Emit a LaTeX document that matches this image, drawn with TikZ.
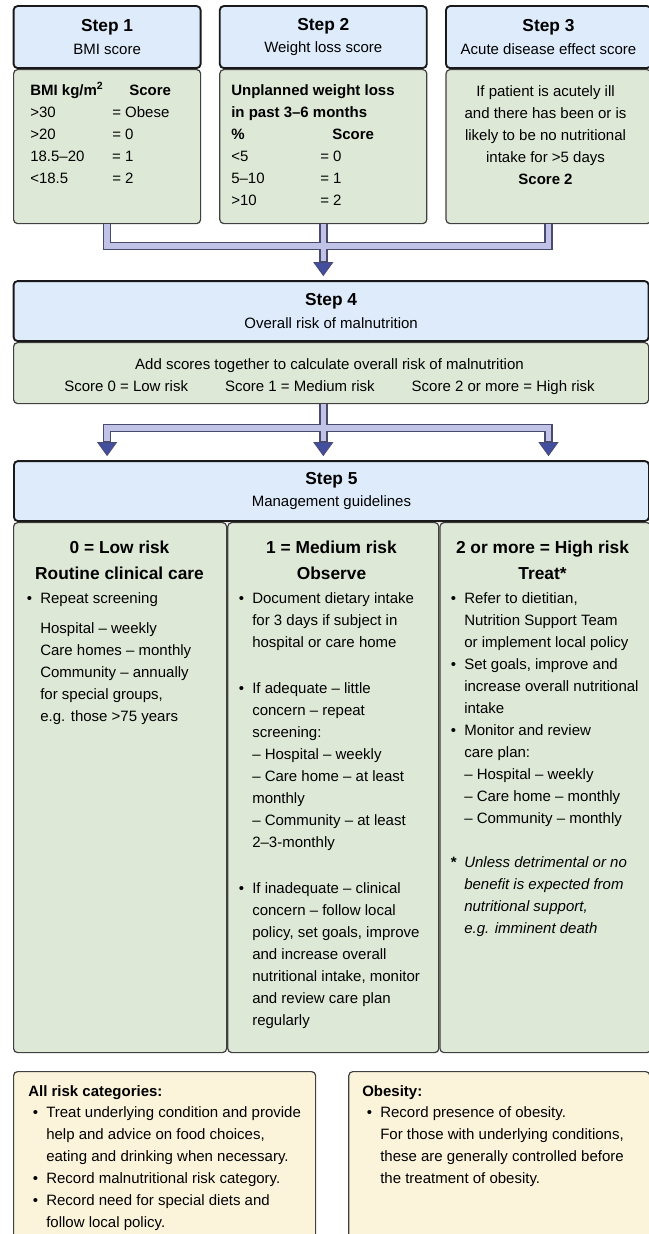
\documentclass[tikz,border=0pt]{standalone}
\usepackage{fontspec}
\setmainfont{Liberation Sans}
\usepackage{xcolor}
\usepackage{tikz}
\usetikzlibrary{arrows.meta, positioning}

\definecolor{headblue}{RGB}{221,235,251}
\definecolor{bodygreen}{RGB}{222,232,215}
\definecolor{noteyellow}{RGB}{251,243,218}
\definecolor{boxline}{RGB}{64,64,64}
\definecolor{pipeedge}{RGB}{72,74,112}
\definecolor{pipefill}{RGB}{192,195,229}
\definecolor{tipfill}{RGB}{68,78,158}

\newcommand{\stepfont}{\fontsize{13}{17}\selectfont\bfseries}
\newcommand{\itm}{\makebox[10pt][l]{\textbullet}}
\newcommand{\ind}{\hspace*{10pt}}

\begin{document}
\begin{tikzpicture}[x=0.75pt, y=-0.75pt,
  stephead/.style={draw=black!90, line width=1.4pt, rounded corners=3pt, fill=headblue,
                   minimum height=46.5pt, inner sep=0pt, align=center,
                   font=\fontsize{11.25}{17}\selectfont},
  stepbody/.style={draw=boxline, line width=0.9pt, rounded corners=3pt, fill=bodygreen,
                   inner sep=0pt},
  notebox/.style={draw=boxline, line width=0.9pt, rounded corners=3pt, fill=noteyellow,
                  inner sep=0pt, anchor=north west, minimum height=150pt},
  txt/.style={anchor=north west, inner sep=0pt, align=left,
              font=\fontsize{11.25}{16.5}\selectfont, execute at begin node=\strut},
  ctxt/.style={txt, anchor=north, align=center},
  coltitle/.style={anchor=north, inner sep=0pt, align=center,
                   font=\fontsize{13}{20}\selectfont\bfseries, execute at begin node=\strut},
  pipeout/.style={draw=pipeedge, line width=6.3pt},
  pipein/.style={draw=pipefill, line width=4.2pt},
  headtip/.style={-{Triangle[width=15pt, length=10.5pt, line width=0.6pt, fill=tipfill]},
                  shorten >=3pt},
  headgap/.style={shorten >=14pt},
]
  \useasboundingbox (0,0) rectangle (649,1234);
  \clip (0,0) rectangle (649,1234);
  \fill[white] (0,0) rectangle (649,1234);

  % steps 1 to 3
  \node[stepbody, anchor=north west, minimum width=140.25pt, minimum height=115.5pt] (body1) at (13,69) {};
  \node[stepbody, right=13.5pt of body1, minimum width=155.25pt, minimum height=115.5pt] (body2) {};
  \node[stepbody, right=13.5pt of body2, minimum width=153.75pt, minimum height=115.5pt] (body3) {};
  \node[stephead, above=0pt of body1, minimum width=140.25pt] (head1) {{\stepfont Step 1}\\BMI score};
  \node[stephead, above=0pt of body2, minimum width=155.25pt] (head2) {{\stepfont Step 2}\\Weight loss score};
  \node[stephead, above=0pt of body3, minimum width=153.75pt] (head3) {{\stepfont Step 3}\\Acute disease effect score};

  \node[txt] (bmi) at (30,79.6) {\begin{tabular}[t]{@{}p{61.5pt}@{}l@{}}
      \textbf{BMI kg/m\textsuperscript{2}} & \hspace*{12.75pt}\textbf{Score}\\
      >30 & = Obese\\
      >20 & = 0\\
      18.5–20 & = 1\\
      <18.5 & = 2
    \end{tabular}};
  \node[txt] (loss) at (231,79.6) {\begin{tabular}[t]{@{}p{66.75pt}@{}l@{}}
      \multicolumn{2}{@{}l@{}}{\textbf{Unplanned weight loss}}\\
      \multicolumn{2}{@{}l@{}}{\textbf{in past 3–6 months}}\\
      \textbf{\%} & \hspace*{9pt}\textbf{Score}\\
      <5 & = 0\\
      5–10 & = 1\\
      >10 & = 2
    \end{tabular}};
  \node[ctxt] (acute) at (545.5,85) {If patient is acutely ill\\and there has been or is\\
    likely to be no nutritional\\intake for >5 days\\\textbf{Score 2}};

  % step 4
  \node[stepbody, anchor=north west, minimum width=476.25pt, minimum height=45.75pt] (body4) at (13,342) {};
  \node[stephead, above=0pt of body4, minimum width=476.25pt, minimum height=45pt] (head4) {{\stepfont Step 4}\\Overall risk of malnutrition};
  \node[ctxt] (risk) at (329.5,358.6) {Add scores together to calculate overall risk of malnutrition\\
    Score 0 = Low risk\hspace{27.75pt}Score 1 = Medium risk\hspace{27.75pt}Score 2 or more = High risk};

  % step 5
  \node[stepbody, anchor=north west, minimum width=159.75pt, minimum height=397.5pt] (col1) at (13,522) {};
  \node[stepbody, right=0pt of col1, minimum width=158.25pt, minimum height=397.5pt] (col2) {};
  \node[stepbody, right=0pt of col2, minimum width=158.25pt, minimum height=397.5pt] (col3) {};
  \node[stephead, anchor=south west, minimum width=476.25pt, minimum height=45pt] (head5) at (col1.north west) {{\stepfont Step 5}\\Management guidelines};

  \node[coltitle] (low) at (119.5,540.5) {0 = Low risk\\Routine clinical care};
  \node[coltitle] (medium) at (331.5,540.5) {1 = Medium risk\\Observe};
  \node[coltitle] (high) at (542.5,540.5) {2 or more = High risk\\Treat*};

  \node[txt] (lowtext) at (26.7,592.6) {\itm Repeat screening\\[6pt]
    \ind Hospital – weekly\\\ind Care homes – monthly\\\ind Community – annually\\
    \ind for special groups,\\\ind e.g. those >75 years};
  \node[txt] (mediumtext) at (238.7,592.6) {\itm Document dietary intake\\\ind for 3 days if subject in\\
    \ind hospital or care home\\[18pt]
    \itm If adequate – little\\\ind concern – repeat\\\ind screening:\\\ind – Hospital – weekly\\
    \ind – Care home – at least\\\ind monthly\\\ind – Community – at least\\\ind 2–3-monthly\\[17.5pt]
    \itm If inadequate – clinical\\\ind concern – follow local\\\ind policy, set goals, improve\\
    \ind and increase overall\\\ind nutritional intake, monitor\\\ind and review care plan\\\ind regularly};
  \node[txt] (hightext) at (450.7,592.6) {\itm Refer to dietitian,\\\ind Nutrition Support Team\\
    \ind or implement local policy\\\itm Set goals, improve and\\\ind increase overall nutritional\\
    \ind intake\\\itm Monitor and review\\\ind care plan:\\\ind – Hospital – weekly\\
    \ind – Care home – monthly\\\ind – Community – monthly\\[16.5pt]
    \makebox[10pt][l]{\textbf{*}}\textit{Unless detrimental or no}\\\ind\textit{benefit is expected from}\\
    \ind\textit{nutritional support,}\\\ind\textit{e.g. imminent death}};

  % notes
  \node[notebox, minimum width=226.5pt] (allrisk) at (13,1071) {};
  \node[notebox, right=24pt of allrisk, minimum width=225.75pt] (obesity) {};
  \node[txt] (allhead) at (28,1080.6) {\textbf{All risk categories:}};
  \node[txt] (alllist) at (32.7,1106.6) {\itm Treat underlying condition and provide\\
    \ind help and advice on food choices,\\\ind eating and drinking when necessary.\\
    \itm Record malnutritional risk category.\\\itm Record need for special diets and\\
    \ind follow local policy.};
  \node[txt] (obhead) at (362,1080.6) {\textbf{Obesity:}};
  \node[txt] (oblist) at (366.7,1106.6) {\itm Record presence of obesity.\\
    \ind For those with underlying conditions,\\\ind these are generally controlled before\\
    \ind the treatment of obesity.};

  % pipes
  \path (body2.south |- body4.south) ++(0,23.5) coordinate (fork);
  \foreach \layer/\tipend in {pipeout/headtip, pipein/headgap} {
    \draw[\layer] (body1.south) -- ++(0,21.5) -| (body3.south);
    \draw[\layer, \tipend] (body2.south) -- (body2.south |- head4.north);
    \draw[\layer] (body2.south |- body4.south) -- (fork);
    \draw[\layer, \tipend] (fork) -| (body1.south |- head5.north);
    \draw[\layer, \tipend] (fork) -- (body2.south |- head5.north);
    \draw[\layer, \tipend] (fork) -| (body3.south |- head5.north);
  }
\end{tikzpicture}
\end{document}
